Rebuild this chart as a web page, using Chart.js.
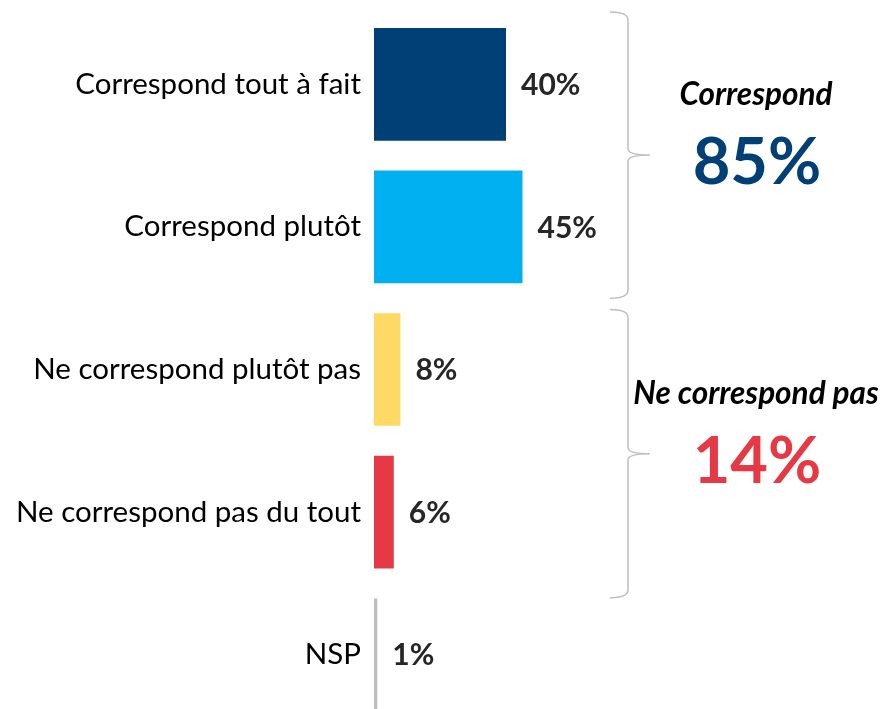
<!DOCTYPE html>
<html>
<head>
<meta charset="utf-8">
<script src="https://cdn.jsdelivr.net/npm/chart.js@4/dist/chart.umd.min.js"></script>
<style>
  html, body { margin: 0; padding: 0; background: #fff; overflow: hidden; }
  #wrap { position: relative; width: 886px; height: 740px; }
</style>
</head>
<body>
<div id="wrap"><canvas id="chart"></canvas></div>
<script>
// données
const categories = ['Correspond tout à fait', 'Correspond plutôt', 'Ne correspond plutôt pas', 'Ne correspond pas du tout', 'NSP'];
const values = [40, 45, 8, 6, 1];
const barColors = ['#004077', '#00B0F0', '#FFD966', '#E63946', '#BFBFBF'];

// regroupements (accolades à droite)
const groupTitles = ['Correspond', 'Ne correspond pas'];
const groupTotals = ['85%', '14%'];
const groupColors = ['#004077', '#E63946'];
const groupRanges = [[0, 1], [2, 3]];

const FONT = 'Lato, "Open Sans", sans-serif';

// étiquettes de valeur au bout des barres
const valueLabels = {
  id: 'valueLabels',
  afterDatasetsDraw(chart) {
    const ctx = chart.ctx;
    const meta = chart.getDatasetMeta(0);
    ctx.save();
    ctx.font = `bold 30px ${FONT}`;
    ctx.fillStyle = '#262626';
    ctx.textAlign = 'left';
    ctx.textBaseline = 'middle';
    meta.data.forEach((bar, i) => {
      ctx.fillText(values[i] + '%', bar.x + 15, bar.y + 1);
    });
    ctx.restore();
  }
};

// accolades + totaux
const braces = {
  id: 'braces',
  afterDraw(chart) {
    const ctx = chart.ctx;
    const y = chart.scales.y;
    const pitch = y.getPixelForValue(1) - y.getPixelForValue(0);
    const x0 = 610, x1 = 628, xt = 650;
    ctx.save();
    ctx.strokeStyle = '#BFBFBF';
    ctx.lineWidth = 1.5;
    groupRanges.forEach(([a, b], g) => {
      const top = y.getPixelForValue(a) - pitch / 2 + (g ? 0.08 * pitch : -1);
      const bot = y.getPixelForValue(b) + pitch / 2 + (g ? 0.1 * pitch : 0);
      const mid = (top + bot) / 2;
      ctx.beginPath();
      ctx.moveTo(x0, top);
      ctx.quadraticCurveTo(x1, top, x1, top + 8);
      ctx.lineTo(x1, mid - 6);
      ctx.quadraticCurveTo(x1, mid, xt, mid);
      ctx.quadraticCurveTo(x1, mid, x1, mid + 6);
      ctx.lineTo(x1, bot - 8);
      ctx.quadraticCurveTo(x1, bot, x0, bot);
      ctx.stroke();

      ctx.textAlign = 'center';
      ctx.textBaseline = 'alphabetic';
      ctx.fillStyle = '#000';
      ctx.font = `italic bold 31.5px ${FONT}`;
      ctx.fillText(groupTitles[g], 756, mid - 50);
      ctx.fillStyle = groupColors[g];
      ctx.font = `bold 65px ${FONT}`;
      ctx.fillText(groupTotals[g], 757, mid + 29);
    });
    ctx.restore();
  }
};

new Chart(document.getElementById('chart'), {
  type: 'bar',
  data: {
    labels: categories,
    datasets: [{
      data: values,
      backgroundColor: barColors,
      barPercentage: 0.79,
      categoryPercentage: 1
    }]
  },
  options: {
    indexAxis: 'y',
    responsive: true,
    maintainAspectRatio: false,
    animation: false,
    layout: { padding: { top: 13, bottom: 14, left: 0, right: 182 } },
    plugins: { legend: { display: false }, tooltip: { enabled: false } },
    scales: {
      x: { display: false, min: 0, max: 100 },
      y: {
        afterFit(scale) {
          scale.width = 374;
          scale.paddingTop = 0;
          scale.paddingBottom = 0;
        },
        grid: { display: false, drawTicks: false },
        border: { display: false },
        ticks: { color: '#000', padding: 13, font: { family: FONT, size: 29.5 } }
      }
    }
  },
  plugins: [valueLabels, braces]
});
</script>
</body>
</html>
